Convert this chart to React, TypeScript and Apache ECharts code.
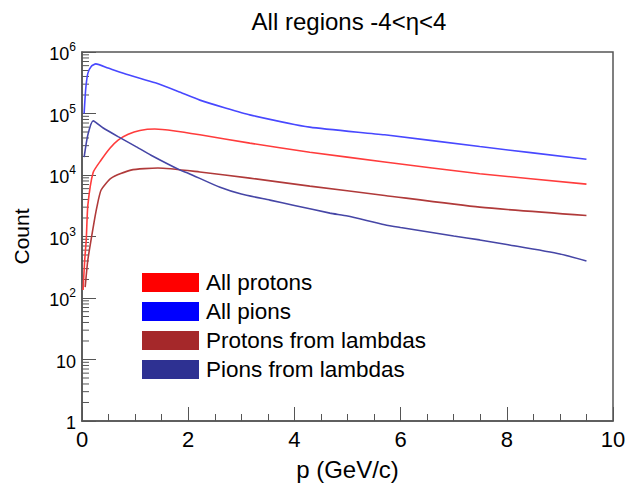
import React, { useEffect, useRef } from "react";
import * as echarts from "echarts";

const FONT = "'Liberation Sans', Arial, Helvetica, sans-serif";

const titleText = "All regions -4<η<4";
const xName = "p (GeV/c)";
const yName = "Count";
const seriesNames = ["All protons", "All pions", "Protons from lambdas", "Pions from lambdas"];

// [p, count]
const allProtons: [number, number][] = [
  [0.02, 135], [0.05, 400], [0.08, 880], [0.11, 3200], [0.21, 11000], [0.36, 17500], [0.53, 27500],
  [0.68, 37000], [0.87, 46000], [1.09, 53000], [1.37, 56000], [1.75, 52000], [2.22, 45000],
  [3.16, 33000], [4.29, 23500], [5.7, 16300], [7.49, 10500], [9.5, 7100],
];
const allPions: [number, number][] = [
  [0.04, 100000], [0.07, 250000], [0.11, 450000], [0.18, 590000], [0.26, 640000], [0.49, 550000],
  [0.87, 425000], [1.38, 315000], [1.8, 230000], [2.22, 165000], [2.7, 123000], [3.16, 95000],
  [4.29, 60000], [5.7, 45000], [7.49, 29000], [9.5, 18000],
];
const protonsFromLambdas: [number, number][] = [
  [0.06, 150], [0.11, 415], [0.21, 1400], [0.28, 3000], [0.36, 5700], [0.55, 8900], [0.92, 12000],
  [1.43, 13000], [2.22, 11200], [3.16, 8900], [4.29, 6600], [5.7, 4650], [7.49, 3000], [9.5, 2200],
];
const pionsFromLambdas: [number, number][] = [
  [0.04, 19500], [0.11, 45000], [0.21, 76000], [0.4, 58000], [0.68, 42000], [1.0, 29500],
  [1.3, 21000], [1.85, 12000], [2.0, 10700], [2.6, 6300], [3.0, 4900], [3.54, 3900], [4.0, 3200],
  [4.67, 2400], [5.0, 2150], [5.7, 1550], [6.0, 1400], [7.0, 1020], [7.49, 880], [8.0, 740],
  [9.0, 520], [9.5, 400],
];

const lineColors = ["#ff3c3c", "#4848ff", "#b03a3a", "#4646a6"];
const legendColors = ["#ff0000", "#0000ff", "#a5282a", "#2e3192"];

const minorTickValues: number[] = [];
for (let e = 0; e < 6; e++) {
  for (let m = 2; m <= 9; m++) minorTickValues.push(m * Math.pow(10, e));
}

export default function App() {
  const ref = useRef<HTMLDivElement>(null);
  useEffect(() => {
    if (!ref.current) return;
    const chart = echarts.init(ref.current, undefined, { renderer: "svg" });
    const datasets = [allProtons, allPions, protonsFromLambdas, pionsFromLambdas];
    chart.setOption({
      animation: false,
      backgroundColor: "#ffffff",
      textStyle: { fontFamily: FONT },
      title: {
        text: titleText,
        left: 344,
        top: 4,
        textAlign: "center",
        textStyle: { fontSize: 24, fontWeight: "normal", color: "#000", fontFamily: FONT },
      },
      grid: {
        left: 82, right: 20, top: 52, bottom: 71,
        show: true, borderColor: "#555", borderWidth: 1.5, backgroundColor: "transparent",
      },
      legend: {
        orient: "vertical",
        left: 137,
        top: 266,
        icon: "rect",
        itemWidth: 57,
        itemHeight: 19,
        itemGap: 6,
        textStyle: { fontSize: 22.5, lineHeight: 23, color: "#000", fontFamily: FONT, padding: [0, 0, 0, 2] },
        data: seriesNames.map((n, i) => ({ name: n, itemStyle: { color: legendColors[i] } })),
      },
      xAxis: {
        type: "value",
        min: 0, max: 10, interval: 2,
        name: xName,
        nameLocation: "middle",
        nameGap: 36,
        nameTextStyle: { fontSize: 24, color: "#000", fontFamily: FONT },
        axisLine: { lineStyle: { color: "#555", width: 1.5 } },
        axisTick: { inside: true, length: 14, lineStyle: { color: "#555" } },
        minorTick: { show: true, splitNumber: 4, length: 7, lineStyle: { color: "#555" } },
        axisLabel: { fontSize: 22, color: "#000", margin: 7, fontFamily: FONT },
        splitLine: { show: false },
      },
      yAxis: {
        type: "log",
        logBase: 10,
        min: 1, max: 1e6, interval: 1,
        name: yName,
        nameLocation: "middle",
        nameGap: 50,
        nameRotate: 90,
        nameTextStyle: { fontSize: 21, color: "#000", fontFamily: FONT },
        axisLine: { show: true, lineStyle: { color: "#555", width: 1.5 } },
        axisTick: { show: true, inside: true, length: 14, lineStyle: { color: "#555" } },
        axisLabel: {
          color: "#000",
          margin: 6,
          fontFamily: FONT,
          formatter: (v: number) => {
            const e = Math.round(Math.log10(v));
            if (e === 0) return "{b|1}";
            if (e === 1) return "{b|10}";
            return "{b|10}{s|" + e + "}";
          },
          rich: {
            b: { fontSize: 18, color: "#000", fontFamily: FONT, verticalAlign: "bottom", lineHeight: 22 },
            s: { fontSize: 12, color: "#000", fontFamily: FONT, verticalAlign: "top", lineHeight: 22 },
          },
        },
        splitLine: { show: false },
      },
      series: [
        ...datasets.map((d, i) => ({
          name: seriesNames[i],
          type: "line",
          data: d,
          smooth: 0.2,
          showSymbol: false,
          symbol: "none",
          lineStyle: { color: lineColors[i], width: 1.6 },
          itemStyle: { color: lineColors[i] },
          z: 3,
        })),
        {
          type: "custom",
          silent: true,
          data: minorTickValues.map((v) => [0, v]),
          renderItem: (_p: any, api: any) => {
            const pt = api.coord([0, api.value(1)]);
            return {
              type: "line",
              shape: { x1: pt[0], y1: pt[1], x2: pt[0] + 7, y2: pt[1] },
              style: { stroke: "#555", lineWidth: 1 },
            };
          },
          z: 2,
        },
      ],
    });
    return () => chart.dispose();
  }, []);
  return <div ref={ref} style={{ position: "fixed", left: 0, top: 0, width: 633, height: 492 }} />;
}
